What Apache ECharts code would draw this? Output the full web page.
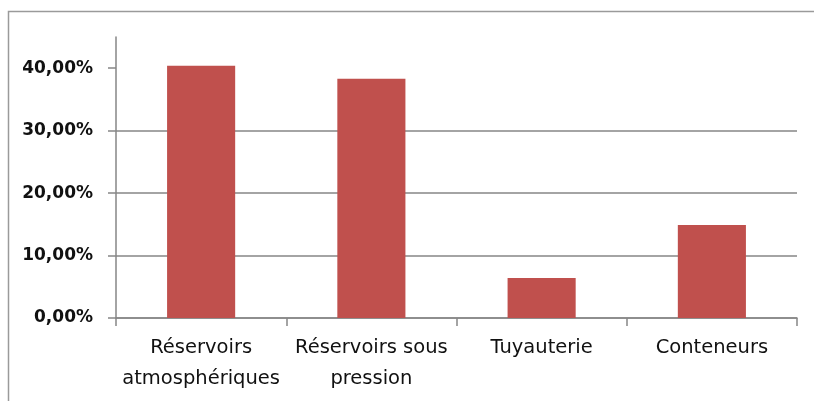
<!DOCTYPE html>
<html>
<head>
<meta charset="utf-8">
<style>
  html, body { margin: 0; padding: 0; background: #ffffff; }
  #chart { width: 814px; height: 401px; }
</style>
<script src="https://cdn.jsdelivr.net/npm/echarts@6/dist/echarts.min.js"></script>
</head>
<body>
<div id="chart"></div>
<script>
// Share of accidents by equipment type
const categories = ['Réservoirs\natmosphériques', 'Réservoirs sous\npression', 'Tuyauterie', 'Conteneurs'];
const shares = [0.404, 0.383, 0.064, 0.149];
const yTicks = [0, 0.1, 0.2, 0.3, 0.4];

const fmtPct = v => (v * 100).toFixed(2).replace('.', ',') + '%';

const chart = echarts.init(document.getElementById('chart'), null, { renderer: 'canvas' });
chart.setOption({
  animation: false,
  backgroundColor: '#ffffff',
  graphic: [{
    type: 'rect',
    shape: { x: 8.5, y: 11.5, width: 900, height: 500 },
    style: { fill: 'none', stroke: '#9a9a9a', lineWidth: 1.5 },
    silent: true
  }],
  grid: { left: 116, right: 17, top: 37, bottom: 83, containLabel: false },
  xAxis: {
    type: 'category',
    data: categories,
    axisLine: { show: true, lineStyle: { color: '#868686', width: 1.5 } },
    axisTick: { show: true, alignWithLabel: false, length: 8, lineStyle: { color: '#868686', width: 1.5 } },
    axisLabel: {
      margin: 14,
      fontFamily: '"DejaVu Sans", sans-serif',
      fontSize: 19.5,
      color: '#111111',
      lineHeight: 31,
      interval: 0
    }
  },
  yAxis: {
    type: 'value',
    min: 0,
    max: 0.45,
    interval: 0.1,
    axisLine: { show: true, lineStyle: { color: '#868686', width: 1.5 } },
    axisTick: { show: true, length: 8, customValues: yTicks, lineStyle: { color: '#868686', width: 1.5 } },
    axisLabel: {
      customValues: yTicks,
      margin: 23,
      formatter: fmtPct,
      fontFamily: '"DejaVu Sans", sans-serif',
      fontSize: 17,
      fontWeight: 'bold',
      color: '#111111'
    },
    splitLine: { show: true, showMaxLine: false, lineStyle: { color: '#868686', width: 1.5 } }
  },
  series: [{
    type: 'bar',
    data: shares,
    barCategoryGap: '60%',
    itemStyle: { color: '#C0504D' }
  }]
});
</script>
</body>
</html>
